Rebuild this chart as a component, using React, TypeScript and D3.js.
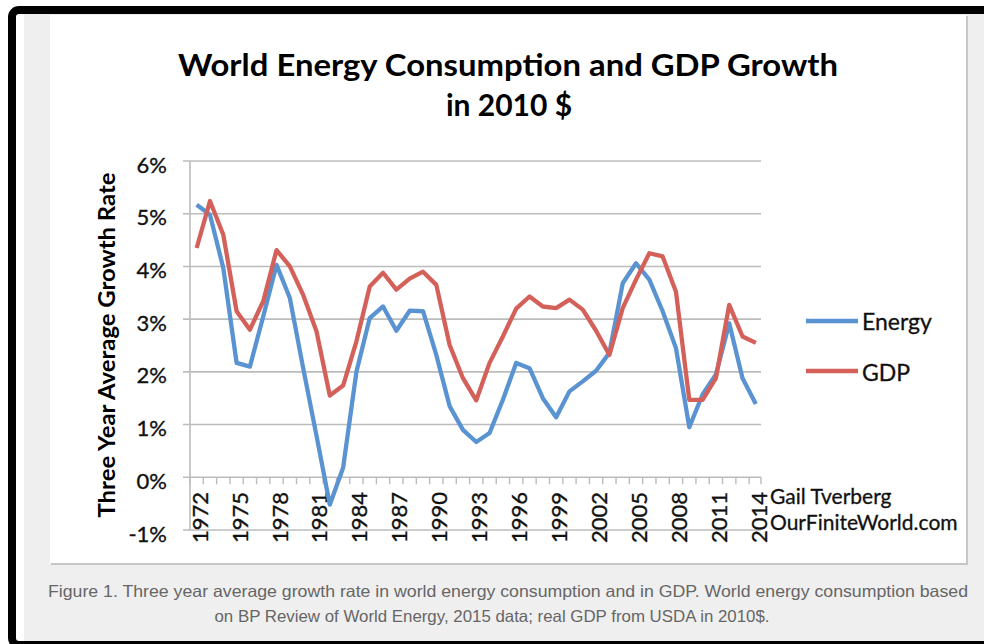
import React from "react";
import { scaleBand, scaleLinear, line } from "d3";

// categories and series (% three year average growth)
const years = [
  1972, 1973, 1974, 1975, 1976, 1977, 1978, 1979, 1980, 1981, 1982, 1983, 1984,
  1985, 1986, 1987, 1988, 1989, 1990, 1991, 1992, 1993, 1994, 1995, 1996, 1997,
  1998, 1999, 2000, 2001, 2002, 2003, 2004, 2005, 2006, 2007, 2008, 2009, 2010,
  2011, 2012, 2013, 2014,
];
const energy = [
  5.17, 4.98, 3.97, 2.17, 2.1, 3.05, 4.03, 3.4, 2.07, 0.79, -0.52, 0.18, 2.0,
  3.02, 3.24, 2.78, 3.16, 3.15, 2.32, 1.35, 0.9, 0.67, 0.84, 1.47, 2.17, 2.07,
  1.5, 1.14, 1.63, 1.82, 2.02, 2.36, 3.68, 4.06, 3.75, 3.15, 2.45, 0.95, 1.57,
  1.95, 2.92, 1.88, 1.39,
];
const gdp = [
  4.35, 5.24, 4.6, 3.15, 2.8, 3.34, 4.31, 4.0, 3.46, 2.77, 1.55, 1.74, 2.58,
  3.62, 3.88, 3.56, 3.77, 3.9, 3.65, 2.51, 1.88, 1.46, 2.17, 2.67, 3.2, 3.43,
  3.24, 3.21, 3.37, 3.18, 2.78, 2.32, 3.21, 3.75, 4.25, 4.19, 3.52, 1.47, 1.47,
  1.88, 3.27, 2.67, 2.55,
];
const yTicks = [-1, 0, 1, 2, 3, 4, 5, 6];
const xLabelYears = [
  1972, 1975, 1978, 1981, 1984, 1987, 1990, 1993, 1996, 1999, 2002, 2005, 2008,
  2011, 2014,
];

const BLUE = "#5a93d1";
const RED = "#d4605a";
const GRID = "#bcbcbc";
const FONT = "Lato, 'Open Sans', sans-serif";
const INK = "#111";

const App = () => {
  // plot area
  const left = 190;
  const right = 762.5;
  const top = 161;
  const bottom = 530;

  const x = scaleBand<number>().domain(years).range([left, right]).padding(0);
  const bw = x.bandwidth();
  const cx = (yr: number) => (x(yr) as number) + bw / 2;
  const y = scaleLinear().domain([-1, 6]).range([bottom, top]);

  const mkLine = (vals: number[]) =>
    line<number>()
      .x((_, i) => cx(years[i]))
      .y((v) => y(v))(vals) as string;

  const zeroY = y(0);

  return (
    <svg
      width={984}
      height={644}
      style={{ position: "absolute", left: 0, top: 0, background: "#fff" }}
    >
      {/* page background and frame */}
      <rect x={24} y={14} width={960} height={630} fill="#efefef" />
      <rect x={51} y={16} width={917} height={549} fill="#c6c6c6" />
      <rect x={50} y={15} width={916} height={548} fill="#fff" />
      <rect
        x={12}
        y={10}
        width={1000}
        height={635}
        rx={7}
        fill="none"
        stroke="#000"
        strokeWidth={8}
      />

      {/* title */}
      <text
        x={508}
        y={76}
        textAnchor="middle"
        fontFamily={FONT}
        fontWeight="bold"
        fontSize={30}
        textLength={660}
        lengthAdjust="spacingAndGlyphs"
      >
        World Energy Consumption and GDP Growth
      </text>
      <text
        x={509}
        y={116}
        textAnchor="middle"
        fontFamily={FONT}
        fontWeight="bold"
        fontSize={30}
      >
        in 2010 $
      </text>

      {/* gridlines */}
      {yTicks.map((t) => (
        <line
          key={t}
          x1={183}
          x2={761}
          y1={y(t)}
          y2={y(t)}
          stroke={GRID}
          strokeWidth={1.6}
        />
      ))}
      <line x1={left} x2={left} y1={top} y2={bottom} stroke={GRID} strokeWidth={1.6} />

      {/* x axis ticks at category boundaries */}
      {years.map((yr) => (
        <line
          key={yr}
          x1={x(yr) as number}
          x2={x(yr) as number}
          y1={zeroY}
          y2={zeroY + 7}
          stroke={GRID}
          strokeWidth={1.4}
        />
      ))}
      <line x1={761} x2={761} y1={zeroY} y2={zeroY + 7} stroke={GRID} strokeWidth={1.4} />

      {/* y tick labels */}
      {yTicks.map((t) => (
        <text
          key={t}
          x={167}
          y={y(t) + 3}
          textAnchor="end"
          dominantBaseline="central"
          fontFamily={FONT}
          fontSize={22}
          fill={INK}
          stroke={INK}
          strokeWidth={0.35}
        >
          {`${t}%`}
        </text>
      ))}

      {/* x tick labels */}
      {xLabelYears.map((yr) => (
        <text
          key={yr}
          transform={`translate(${cx(yr) + 2.5},${492}) rotate(-90)`}
          textAnchor="end"
          dominantBaseline="central"
          fontFamily={FONT}
          fontSize={22}
          fill={INK}
          stroke={INK}
          strokeWidth={0.35}
        >
          {yr}
        </text>
      ))}

      {/* y axis title */}
      <text
        transform="translate(106,345) rotate(-90)"
        textAnchor="middle"
        dominantBaseline="central"
        fontFamily={FONT}
        fontWeight="bold"
        fontSize={22}
        textLength={345}
        lengthAdjust="spacingAndGlyphs"
      >
        Three Year Average Growth Rate
      </text>

      {/* series */}
      <path
        d={mkLine(energy)}
        fill="none"
        stroke={BLUE}
        strokeWidth={4.3}
        strokeLinejoin="round"
      />
      <path
        d={mkLine(gdp)}
        fill="none"
        stroke={RED}
        strokeWidth={4.3}
        strokeLinejoin="round"
      />

      {/* legend */}
      <line x1={806} x2={858} y1={321} y2={321} stroke={BLUE} strokeWidth={4.3} />
      <text x={862} y={330} fontFamily={FONT} fontSize={23} fill={INK} stroke={INK} strokeWidth={0.3}>
        Energy
      </text>
      <line x1={806} x2={858} y1={371} y2={371} stroke={RED} strokeWidth={4.3} />
      <text x={862} y={381} fontFamily={FONT} fontSize={23} fill={INK} stroke={INK} strokeWidth={0.3}>
        GDP
      </text>

      {/* credit */}
      <text x={770} y={504} fontFamily={FONT} fontSize={21} fill={INK} stroke={INK} strokeWidth={0.3}>
        Gail Tverberg
      </text>
      <text x={770} y={530} fontFamily={FONT} fontSize={21} fill={INK} stroke={INK} strokeWidth={0.3}>
        OurFiniteWorld.com
      </text>

      {/* caption */}
      <text
        x={508}
        y={597}
        textAnchor="middle"
        fontFamily="'Liberation Sans Narrow', 'Liberation Sans', Arial, sans-serif"
        fontSize={16.5}
        fill="#666"
        textLength={920}
        lengthAdjust="spacingAndGlyphs"
      >
        Figure 1. Three year average growth rate in world energy consumption and in
        GDP. World energy consumption based
      </text>
      <text
        x={492}
        y={622}
        textAnchor="middle"
        fontFamily="'Liberation Sans Narrow', 'Liberation Sans', Arial, sans-serif"
        fontSize={16.5}
        fill="#666"
        textLength={555}
        lengthAdjust="spacingAndGlyphs"
      >
        on BP Review of World Energy, 2015 data; real GDP from USDA in 2010$.
      </text>
    </svg>
  );
};

export default App;
